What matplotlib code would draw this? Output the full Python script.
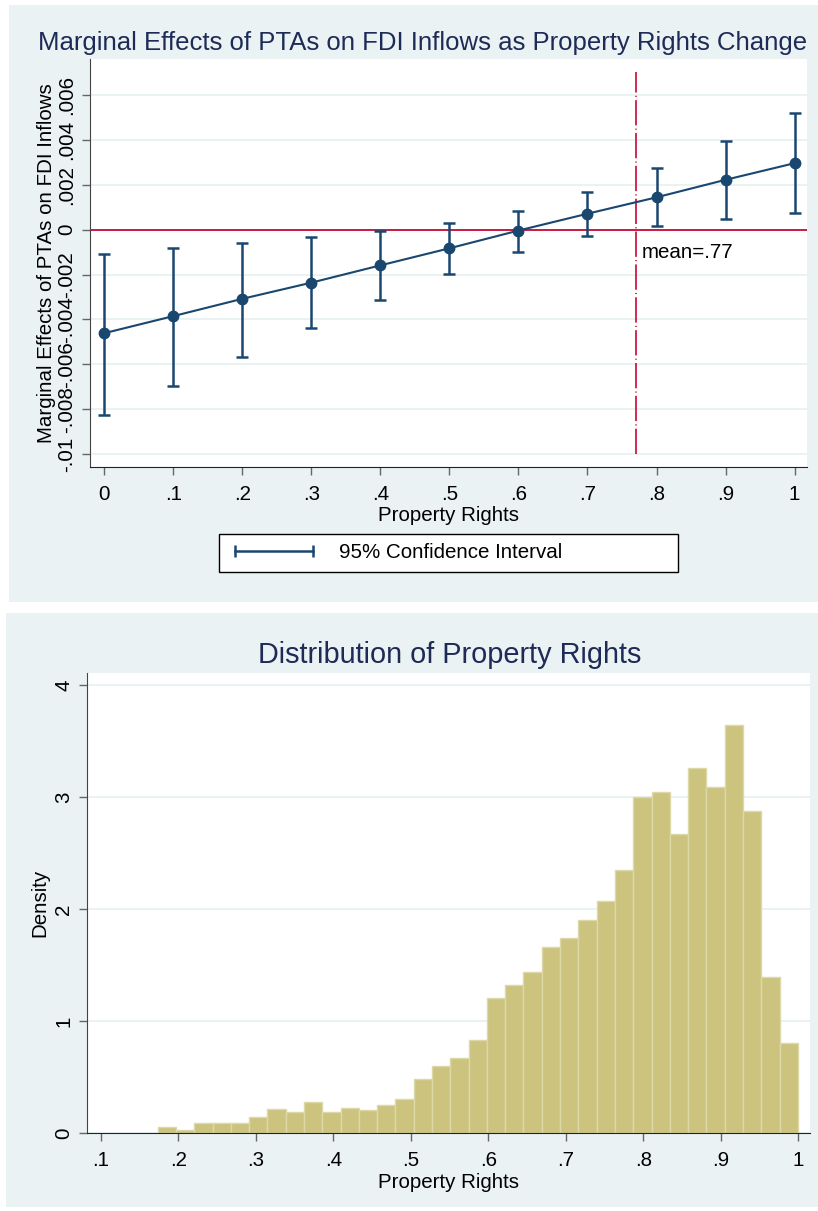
import numpy as np
import matplotlib
matplotlib.use("Agg")
import matplotlib.pyplot as plt
from matplotlib.lines import Line2D
from matplotlib.patches import Rectangle
from matplotlib.ticker import FuncFormatter

plt.rcParams["font.family"] = ["Liberation Sans", "DejaVu Sans"]

# --- top panel: marginal effect of PTAs by property rights level ---
prop_rights = [0, .1, .2, .3, .4, .5, .6, .7, .8, .9, 1]
marg_eff = [-0.00461, -0.00385, -0.00308, -0.00236, -0.00159, -0.00083,
            -0.00004, 0.00071, 0.00144, 0.00222, 0.00296]
ci_upper = [-0.00107, -0.00081, -0.00059, -0.00033, -0.00004, 0.00031,
            0.00085, 0.00166, 0.00274, 0.00394, 0.00521]
ci_lower = [-0.00825, -0.00697, -0.00567, -0.00439, -0.00314, -0.00199,
            -0.00098, -0.00027, 0.00018, 0.00047, 0.00076]
pr_mean = 0.77
mean_line_span = [-0.01, 0.00704]
me_yticks = [-0.01, -0.008, -0.006, -0.004, -0.002, 0, 0.002, 0.004, 0.006]

# --- bottom panel: histogram of property rights (35 bins) ---
hist_start = 0.1735
hist_width = 0.0236
density = [0.057, 0.030, 0.086, 0.086, 0.086, 0.146, 0.217, 0.190, 0.274,
           0.190, 0.226, 0.202, 0.247, 0.307, 0.481, 0.599, 0.666, 0.829,
           1.206, 1.324, 1.436, 1.659, 1.739, 1.902, 2.073, 2.348, 3.000,
           3.042, 2.669, 3.261, 3.087, 3.641, 2.878, 1.394, 0.805]

BG = "#EAF2F3"
NAVY = "#1A476F"
RED = "#CB1A43"
TITLE = "#1E2B57"
KHAKI = "#CCC37F"
FS = 14.8

W, H = 818, 1211
fig = plt.figure(figsize=(W / 100, H / 100), dpi=100)


def fbox(x0, y0, x1, y1):
    # pixel box (top-left origin) -> figure fraction [left, bottom, width, height]
    return [x0 / W, 1 - y1 / H, (x1 - x0) / W, (y1 - y0) / H]


for box in [(9, 5, 818, 602), (6, 613, 818, 1207)]:
    l, b, w, h = fbox(*box)
    fig.add_artist(Rectangle((l, b), w, h, transform=fig.transFigure,
                             facecolor=BG, edgecolor="none", zorder=-1))


def stata_fmt(v, _):
    s = f"{round(v, 6):g}"
    return s.replace("0.", ".", 1)


def style(ax):
    ax.set_facecolor("white")
    for s in ("top", "right"):
        ax.spines[s].set_visible(False)
    ax.spines["left"].set_color("#444444")
    ax.spines["bottom"].set_color("#222222")
    ax.tick_params(length=6, width=1, color="#666666", labelsize=FS)
    ax.tick_params(axis="x", pad=7)
    ax.tick_params(axis="y", labelrotation=90, pad=4)
    ax.xaxis.set_major_formatter(FuncFormatter(stata_fmt))
    ax.yaxis.set_major_formatter(FuncFormatter(stata_fmt))
    ax.yaxis.grid(True, color=BG, lw=1.4)
    ax.set_axisbelow(True)


# ---------------- top ----------------
ax1 = fig.add_axes(fbox(90, 59, 807, 467))
style(ax1)
me = np.array(marg_eff)
yerr = [me - np.array(ci_lower), np.array(ci_upper) - me]
ax1.axhline(0, color=RED, lw=1.4, zorder=1.5)
ax1.plot([pr_mean, pr_mean], mean_line_span, color=RED, lw=1.3,
         ls=(0, (14, 1.8, 0.6, 1.8)), zorder=1.6)
ax1.errorbar(prop_rights, marg_eff, yerr=yerr, fmt="none", ecolor=NAVY,
             elinewidth=1.8, capsize=4, capthick=1.8, zorder=2)
ax1.plot(prop_rights, marg_eff, color=NAVY, lw=1.5, marker="o", ms=7.5, zorder=3)
ax1.annotate(f"mean={stata_fmt(pr_mean, None)}", xy=(pr_mean, -0.001),
             xytext=(4, 0), textcoords="offset points", ha="left", va="center",
             fontsize=FS, color="black")
ax1.set_xlim(-0.0207, 1.018)
ax1.set_ylim(-0.01057, 0.0076)
ax1.set_xticks(prop_rights)
ax1.set_yticks(me_yticks)
for lab in ax1.get_yticklabels():
    lab.set_va("center")
ax1.set_xlabel("Property Rights", fontsize=FS)
ax1.xaxis.set_label_coords(0.5, -0.118)
ax1.xaxis.label.set_va("center")
ax1.set_ylabel("Marginal Effects of PTAs on FDI Inflows", fontsize=FS)
ax1.yaxis.set_label_coords(-0.060, 0.5)
ax1.yaxis.label.set(va="center", ha="center")
ax1.set_title("Marginal Effects of PTAs on FDI Inflows as Property Rights Change",
              fontsize=18.5, color=TITLE, x=0.4637, y=1.039, va="center", pad=0)

ci_handle = Line2D([], [], color=NAVY, lw=1.8, marker="|", ms=9, mew=1.8)
l, b, w, h = fbox(219, 534, 678, 572)
leg = ax1.legend([ci_handle], ["95% Confidence Interval"], loc="lower left",
                 bbox_to_anchor=(l, b, w, h), bbox_transform=fig.transFigure,
                 mode="expand", numpoints=2, fontsize=FS, frameon=True,
                 fancybox=False, edgecolor="black", framealpha=1,
                 borderaxespad=0, borderpad=0.47, handlelength=4.4,
                 handletextpad=0.97)
leg.get_frame().set_linewidth(1.0)

# ---------------- bottom ----------------
ax2 = fig.add_axes(fbox(87.3, 672.5, 810, 1133))
style(ax2)
edges = hist_start + hist_width * np.arange(len(density))
ax2.bar(edges, density, width=hist_width, align="edge", color=KHAKI,
        edgecolor="#DCD8A8", linewidth=1.0, zorder=2)
ax2.set_xlim(0.0827, 1.0152)
ax2.set_ylim(0, 4.11)
ax2.set_xticks([.1, .2, .3, .4, .5, .6, .7, .8, .9, 1])
ax2.set_yticks([0, 1, 2, 3, 4])
for lab in ax2.get_yticklabels():
    lab.set_va("center")
ax2.set_xlabel("Property Rights", fontsize=FS)
ax2.xaxis.set_label_coords(0.5, -0.108)
ax2.xaxis.label.set_va("center")
ax2.set_ylabel("Density", fontsize=FS)
ax2.yaxis.set_label_coords(-0.0654, 0.5)
ax2.yaxis.label.set(va="center", ha="center")
ax2.set_title("Distribution of Property Rights", fontsize=20.8, color=TITLE,
              x=0.502, y=1.038, va="center", pad=0)

fig.savefig("out.png", dpi=100)
